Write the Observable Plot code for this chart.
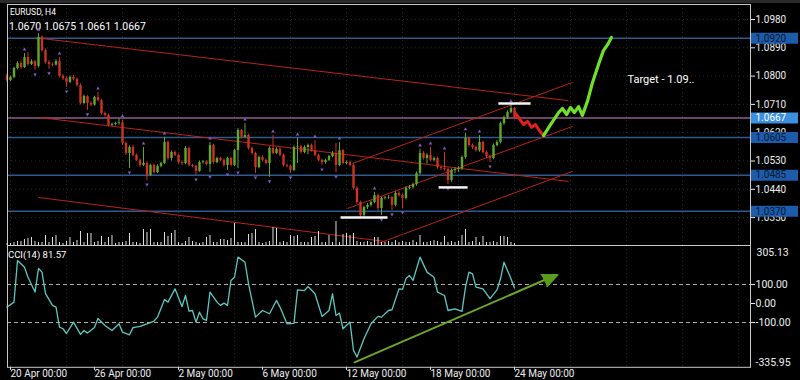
<!DOCTYPE html>
<html><head><meta charset="utf-8">
<script src="https://cdn.jsdelivr.net/npm/d3@7"></script>
<script src="https://cdn.jsdelivr.net/npm/@observablehq/plot@0.6"></script>
<style>
html,body{margin:0;padding:0;background:#000;}
#wrap{position:relative;width:800px;height:380px;background:#000;overflow:hidden;font-family:Roboto,"Liberation Sans",sans-serif;border-top:3px solid #2a2a2a;box-sizing:border-box;}
#wrap svg{position:absolute;left:0;top:-3px;}
.lbl{position:absolute;color:#fff;white-space:nowrap;line-height:1;}
</style></head><body>
<div id="wrap">
  <div class="lbl" style="left:10px;top:5px;font-size:8.5px;">EURUSD, H4</div>
  <div class="lbl" style="left:9px;top:19px;font-size:10.5px;">1.0670 1.0675 1.0661 1.0667</div>
  <div class="lbl" style="left:8px;top:247px;font-size:9.5px;">CCI(14) 81.57</div>
</div>
<script>
// ---------------- DATA ----------------
const symbol = "EURUSD, H4";
const firstBar = -1;          // bar index of the first candle (20 Apr 00:00 is bar 0)
const firstOpen = 1.0802;
const closes = [
 1.0786,1.0796,1.0824,1.0840,1.0827,1.0859,1.0837,1.0846,1.0831,1.0923,
 1.0881,1.0843,1.0837,1.0835,1.0846,1.0799,1.0792,1.0780,1.0796,1.0790,
 1.0770,1.0713,1.0735,1.0713,1.0708,1.0732,1.0722,1.0681,1.0675,1.0643,
 1.0646,1.0649,1.0651,1.0586,1.0554,1.0573,1.0548,1.0532,1.0516,1.0522,
 1.0484,1.0516,1.0493,1.0513,1.0522,1.0589,1.0538,1.0557,1.0548,1.0525,
 1.0522,1.0570,1.0516,1.0513,1.0497,1.0525,1.0527,1.0519,1.0579,1.0525,
 1.0538,1.0532,1.0516,1.0538,1.0516,1.0563,1.0627,1.0605,1.0611,1.0570,
 1.0554,1.0509,1.0541,1.0532,1.0522,1.0570,1.0554,1.0567,1.0548,1.0516,
 1.0513,1.0500,1.0573,1.0575,1.0557,1.0573,1.0579,1.0563,1.0548,1.0532,
 1.0525,1.0532,1.0544,1.0554,1.0516,1.0563,1.0522,1.0525,1.0516,1.0443,
 1.0398,1.0357,1.0382,1.0389,1.0398,1.0420,1.0379,1.0411,1.0413,1.0414,
 1.0389,1.0427,1.0420,1.0411,1.0443,1.0446,1.0455,1.0490,1.0554,1.0538,
 1.0548,1.0532,1.0538,1.0509,1.0506,1.0503,1.0468,1.0500,1.0503,1.0506,
 1.0541,1.0602,1.0579,1.0573,1.0563,1.0589,1.0557,1.0544,1.0538,1.0579,
 1.0589,1.0649,1.0668,1.0684,1.0697,1.0667
];
const highs = [
 1.0808,1.0800,1.0828,1.0846,1.0848,1.0872,1.0875,1.0852,1.0850,1.0935,
 1.0928,1.0886,1.0849,1.0842,1.0852,1.0859,1.0805,1.0797,1.0800,1.0802,
 1.0794,1.0775,1.0740,1.0738,1.0718,1.0736,1.0748,1.0726,1.0686,1.0679,
 1.0650,1.0653,1.0665,1.0660,1.0590,1.0578,1.0580,1.0552,1.0536,1.0573,
 1.0526,1.0520,1.0520,1.0518,1.0526,1.0605,1.0594,1.0562,1.0562,1.0552,
 1.0530,1.0576,1.0574,1.0520,1.0517,1.0530,1.0532,1.0531,1.0589,1.0583,
 1.0542,1.0542,1.0536,1.0542,1.0542,1.0567,1.0633,1.0630,1.0649,1.0616,
 1.0575,1.0558,1.0546,1.0546,1.0536,1.0575,1.0611,1.0572,1.0572,1.0552,
 1.0520,1.0517,1.0578,1.0602,1.0580,1.0578,1.0584,1.0584,1.0595,1.0552,
 1.0536,1.0536,1.0548,1.0560,1.0586,1.0589,1.0567,1.0530,1.0530,1.0520,
 1.0448,1.0402,1.0386,1.0395,1.0403,1.0430,1.0425,1.0415,1.0418,1.0420,
 1.0418,1.0432,1.0432,1.0425,1.0448,1.0452,1.0460,1.0495,1.0567,1.0560,
 1.0553,1.0573,1.0543,1.0542,1.0513,1.0557,1.0508,1.0505,1.0508,1.0512,
 1.0546,1.0618,1.0606,1.0584,1.0578,1.0611,1.0593,1.0562,1.0549,1.0584,
 1.0595,1.0654,1.0673,1.0690,1.0707,1.0700
];
const lows = [
 1.0780,1.0782,1.0792,1.0820,1.0822,1.0824,1.0832,1.0834,1.0818,1.0826,
 1.0876,1.0838,1.0822,1.0830,1.0832,1.0794,1.0786,1.0764,1.0776,1.0785,
 1.0765,1.0708,1.0710,1.0691,1.0702,1.0704,1.0718,1.0676,1.0670,1.0638,
 1.0640,1.0642,1.0644,1.0580,1.0548,1.0506,1.0544,1.0528,1.0510,1.0512,
 1.0468,1.0480,1.0488,1.0490,1.0508,1.0518,1.0532,1.0530,1.0544,1.0520,
 1.0516,1.0518,1.0512,1.0508,1.0484,1.0494,1.0520,1.0515,1.0493,1.0520,
 1.0521,1.0528,1.0511,1.0500,1.0512,1.0512,1.0506,1.0600,1.0602,1.0565,
 1.0548,1.0490,1.0505,1.0527,1.0518,1.0478,1.0550,1.0550,1.0544,1.0511,
 1.0508,1.0490,1.0496,1.0522,1.0552,1.0553,1.0550,1.0558,1.0544,1.0528,
 1.0516,1.0520,1.0528,1.0540,1.0493,1.0512,1.0518,1.0518,1.0512,1.0438,
 1.0392,1.0350,1.0352,1.0376,1.0384,1.0394,1.0372,1.0357,1.0406,1.0408,
 1.0373,1.0384,1.0415,1.0379,1.0406,1.0438,1.0440,1.0450,1.0485,1.0533,
 1.0520,1.0528,1.0527,1.0504,1.0500,1.0498,1.0455,1.0462,1.0490,1.0494,
 1.0500,1.0536,1.0574,1.0567,1.0558,1.0558,1.0552,1.0538,1.0525,1.0534,
 1.0575,1.0584,1.0643,1.0662,1.0680,1.0661
];
const volumes = [ // tick volume, thousands
 2,2,3,4,4,6,7,8,4,3,
 3,10,3,8,10,3,2,4,8,3,
 5,14,3,12,12,3,4,9,3,8,
 10,2,3,3,4,12,3,3,2,16,
 13,16,3,3,3,13,9,12,15,3,
 2,4,8,4,3,2,3,8,10,3,
 3,6,6,5,7,22,3,3,3,11,
 12,16,3,2,3,4,18,17,3,4,
 3,10,9,10,3,3,3,8,9,14,
 3,3,10,3,24,3,11,12,10,12,
 4,3,3,4,3,8,8,3,3,4,
 3,5,3,4,3,3,5,3,10,3,
 3,4,5,4,3,9,3,4,3,4,
 10,16,3,4,8,3,9,3,3,4,
 3,9,9,8,3,2
];
const fractalUp   = [4,8,14,25,32,38,44,57,67,75,82,87,94,104,117,120,124,130,134,143];
const fractalDown = [7,11,16,22,34,39,53,57,62,65,70,74,80,89,93,106,109,112,125,137];

// CCI(14): [bar, value]
const cciPoints = [
 [-1,-19],[1,7],[2,226],[4,191],[5,138],[7,60],[8,184],[9,165],[10,52],[12,-10],[13,-19],
 [14,-125],[15,-133],[16,-158],[18,-98],[20,-163],[21,-142],[22,-156],[24,-127],[25,-79],
 [27,-116],[29,-142],[31,-107],[32,-151],[34,-165],[35,-127],[37,-120],[39,-107],[41,-93],
 [42,-72],[44,21],[45,7],[47,77],[49,-16],[50,42],[51,-40],[52,-37],[53,-98],[54,-46],
 [55,-81],[56,-89],[57,60],[59,7],[60,-10],[61,2],[62,-10],[63,121],[64,138],[65,244],
 [67,217],[68,104],[70,-72],[72,-37],[74,-54],[76,16],[77,-19],[79,-107],[81,-105],[82,72],
 [84,68],[85,89],[87,51],[89,-68],[91,-37],[92,51],[93,-63],[94,-51],[95,-133],[97,-98],
 [98,-247],[99,-282],[101,-186],[103,-107],[105,-68],[106,-72],[108,-37],[109,-33],[111,77],
 [112,74],[113,131],[114,147],[115,121],[117,244],[119,165],[121,138],[122,60],[124,42],
 [125,-37],[127,-28],[129,-42],[130,86],[131,165],[132,156],[133,86],[135,77],[137,25],
 [139,72],[140,130],[141,217],[142,174],[143,130],[144,81.57]
];

// drawn objects: [bar1, price1, bar2, price2]
const trendLines = [
 [8.57,1.0920,159.4,1.0722],
 [8.57,1.0668,159.4,1.0465],
 [8.0,1.0414,107.1,1.0274],
 [105.1,1.0268,160.6,1.0497],
 [96.3,1.0379,160.6,1.0640],
 [97.7,1.0522,160.6,1.0780]
];
const levelLines = [1.0920, 1.0605, 1.0485, 1.0370];
const lastPrice = 1.0667;
const whiteMarks = [[139.4,148.6,1.0713],[122.3,130.6,1.0446],[94.3,107.7,1.0350]];
const redPath = [[144.3,1.0681],[145.4,1.0665],[146.6,1.0646],[147.7,1.0656],[148.9,1.0637],[150,1.0646],[151.1,1.0627],[152.3,1.0611]];
const greenPath = [[152.3,1.0611],[154.3,1.0646],[156.6,1.0684],[157.7,1.0697],[158.9,1.0678],[160,1.0700],[161.1,1.0684],[162.3,1.0703],[163.4,1.0675],[164.9,1.0722],[166.3,1.0780],[168,1.0837],[169.4,1.0881],[170.6,1.0900],[171.7,1.0923]];
const targetNote = {bar: 176.3, price: 1.0789, text: "Target - 1.09.."};
const cciArrow = [[98.3,-310],[152.9,126]];
const cciArrowHead = [[151.6,151],[156.4,151],[153.3,89.5]];

const priceTicks = [1.0980,1.0890,1.0800,1.0710,1.0620,1.0530,1.0440,1.0350];
const cciTicks = [100, 0, -100];
const cciRange = [-335.95, 305.13];
const dateTicks = [0,24,48,72,96,120,144];
const dateLabels = ["20 Apr 00:00","26 Apr 00:00","2 May 00:00","6 May 00:00","12 May 00:00","18 May 00:00","24 May 00:00"];
const gridBars = [0,16,32,48,64,80,96,112,128,144,160,176,192,208];

// ---------------- LAYOUT ----------------
const W = 800, H = 380, ML = 7, MR = 50;
const xDomain = [-0.857, 211.43];
const priceDomain = [1.02613, 1.10277];
const base = {
  width: W, height: H, marginLeft: ML, marginRight: MR,
  style: {background: "transparent", color: "#eee", fontFamily: "Roboto, sans-serif", overflow: "visible"}
};
const candles = closes.map((c, k) => ({
  i: firstBar + k, open: k ? closes[k - 1] : firstOpen, close: c, high: highs[k], low: lows[k]
}));
const byBar = new Map(candles.map(d => [d.i, d]));
const candleColor = d => d.close >= d.open ? "#62a92b" : "#cc3420";
const fmt4 = d => d.toFixed(4);
const fmt2 = d => d.toFixed(2);

const wrap = document.getElementById("wrap");

// main price panel
const main = Plot.plot({
  ...base, marginTop: 4, marginBottom: H - 245,
  x: {domain: xDomain, axis: null},
  y: {domain: priceDomain, axis: null},
  marks: [
    Plot.gridY(priceTicks, {stroke: "#888", strokeOpacity: 0.3, strokeDasharray: "1,3"}),
    Plot.gridX(gridBars, {stroke: "#888", strokeOpacity: 0.3, strokeDasharray: "1,3"}),
    Plot.ruleY(levelLines, {stroke: "#2e5a8e", strokeWidth: 1.5}),
    Plot.ruleY([lastPrice], {stroke: "#8e5f8c", strokeWidth: 1.5}),
    Plot.link(trendLines, {x1: d => d[0], y1: d => d[1], x2: d => d[2], y2: d => d[3], stroke: "#b8231b", strokeWidth: 1}),
    Plot.ruleX(candles, {x: "i", y1: "low", y2: "high", stroke: candleColor, strokeWidth: 1}),
    Plot.ruleX(candles, {x: "i", y1: "open", y2: "close", stroke: candleColor, strokeWidth: 2.4}),
    Plot.dot(fractalUp, {x: d => d, y: d => byBar.get(d).high, dy: -4, symbol: "triangle", r: 1.3, fill: "#8358cc", stroke: null}),
    Plot.dot(fractalDown, {x: d => d, y: d => byBar.get(d).low, dy: 4, symbol: "triangle", rotate: 180, r: 1.3, fill: "#8358cc", stroke: null}),
    Plot.link(whiteMarks, {x1: d => d[0], x2: d => d[1], y1: d => d[2], y2: d => d[2], stroke: "#f4f4f4", strokeWidth: 2.5}),
    Plot.line(redPath, {x: d => d[0], y: d => d[1], stroke: "#e0201c", strokeWidth: 3, curve: "linear"}),
    Plot.line(greenPath, {x: d => d[0], y: d => d[1], stroke: "#6fe12b", strokeWidth: 3.2, curve: "linear"}),
    Plot.text([targetNote], {x: "bar", y: "price", text: "text", textAnchor: "start", fill: "#fff", fontSize: 11}),
    Plot.axisY(priceTicks, {anchor: "right", tickSize: 4, tickPadding: 1, tickFormat: fmt4, fontSize: 10, color: "#eee", label: null}),
    Plot.tickY(levelLines, {y: d => d, stroke: "#1d5bab", strokeWidth: 11, insetLeft: W - ML - MR + 1, insetRight: -(MR - 2)}),
    Plot.tickY([lastPrice], {y: d => d, stroke: "#3d8fe0", strokeWidth: 11, insetLeft: W - ML - MR + 1, insetRight: -(MR - 2)}),
    Plot.text(levelLines, {y: d => d, text: fmt4, frameAnchor: "right", dx: 5, textAnchor: "start", fill: "#0a1830", fontSize: 10}),
    Plot.text([lastPrice], {y: d => d, text: fmt4, frameAnchor: "right", dx: 5, textAnchor: "start", fill: "#ffffff", fontSize: 10}),
    Plot.frame({stroke: "#c8c8c8"})
  ]
});
wrap.appendChild(main);

// volume histogram (bottom of main panel)
const vol = Plot.plot({
  ...base, marginTop: 200, marginBottom: H - 245,
  x: {domain: xDomain, axis: null},
  y: {domain: [0, 45], axis: null},
  marks: [
    Plot.ruleX(volumes, {x: (d, k) => firstBar + k, y1: 0, y2: d => d, stroke: "#e0e0e0", strokeWidth: 1})
  ]
});
wrap.appendChild(vol);

// CCI panel
const cci = Plot.plot({
  ...base, marginTop: 245, marginBottom: H - 366.8,
  x: {domain: xDomain, axis: null},
  y: {domain: cciRange, axis: null},
  marks: [
    Plot.gridX(gridBars, {stroke: "#888", strokeOpacity: 0.3, strokeDasharray: "1,3"}),
    Plot.ruleY([100, -100], {stroke: "#b0b0b0", strokeDasharray: "4,3"}),
    Plot.line(cciPoints, {x: d => d[0], y: d => d[1], stroke: "#5ec8c2", strokeWidth: 1.3}),
    Plot.line(cciArrow, {x: d => d[0], y: d => d[1], stroke: "#6aa82a", strokeWidth: 2}),
    Plot.line(cciArrowHead, {x: d => d[0], y: d => d[1], fill: "#5a9e1e", stroke: "#5a9e1e", z: null}),
    Plot.axisY(cciTicks, {anchor: "right", tickSize: 4, tickPadding: 1, tickFormat: fmt2, fontSize: 10.5, color: "#eee", label: null}),
    Plot.text([cciRange[1]], {y: d => d, text: fmt2, frameAnchor: "right", dx: 6, dy: 7, textAnchor: "start", fill: "#eee", fontSize: 10.5}),
    Plot.text([cciRange[0]], {y: d => d, text: fmt2, frameAnchor: "right", dx: 5, dy: -5, textAnchor: "start", fill: "#eee", fontSize: 10.5}),
    Plot.axisX(dateTicks, {anchor: "bottom", tickSize: 3, tickPadding: 0, textAnchor: "start", dx: 0,
      tickFormat: d => dateLabels[dateTicks.indexOf(d)], fontSize: 10, color: "#eee", label: null}),
    Plot.frame({stroke: "#c8c8c8"})
  ]
});
wrap.appendChild(cci);
</script></body></html>
